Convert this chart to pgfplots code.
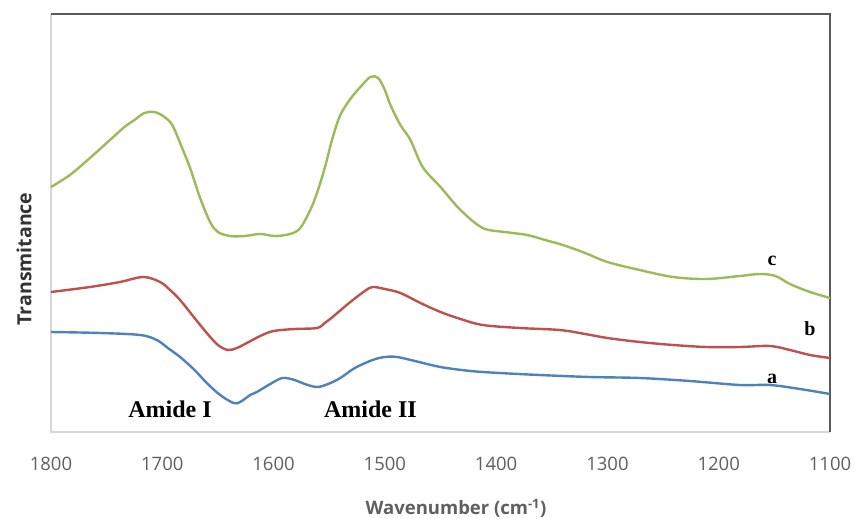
\documentclass[border=0pt]{standalone}
\usepackage{pgfplots}
\pgfplotsset{compat=1.18}
\usepackage{fontspec}
\setmainfont{Open Sans}
\newfontfamily\timesf{Liberation Serif}
\definecolor{cgreen}{RGB}{155,187,89}
\definecolor{cred}{RGB}{192,80,77}
\definecolor{cblue}{RGB}{79,129,189}
\definecolor{tickgray}{RGB}{95,95,95}
\definecolor{framedark}{RGB}{90,90,90}
\definecolor{framelight}{RGB}{215,215,215}
\begin{document}
\begin{tikzpicture}[x=1pt,y=1pt]
\useasboundingbox (-51pt,-87pt) rectangle (806pt,432pt);
\begin{axis}[
  at={(0,0)}, anchor=south west,
  scale only axis, width=779pt, height=418pt,
  xmin=1100, xmax=1800, x dir=reverse,
  ymin=87, ymax=505,
  xtick={1100,1200,...,1800},
  ytick=\empty,
  major tick length=0pt,
  axis line style={draw=none},
  /pgf/number format/assume math mode=true,
  /pgf/number format/1000 sep={},
  xticklabel style={font=\fontsize{18.5}{20}\selectfont, text=tickgray, yshift=-22pt},
  clip=false,
]
\draw[framelight, line width=2pt] (rel axis cs:0,1) -- (rel axis cs:0,0) -- (rel axis cs:1,0);
\draw[framedark, line width=2pt] (rel axis cs:0,1) -- (rel axis cs:1,1) -- (rel axis cs:1,0);

% c (green)
\addplot[cgreen, line width=2.4pt, smooth, tension=0.55] coordinates {
(1800,332) (1783,344) (1765,361) (1747,379) (1734,392) (1725,399) (1716,406)
(1707,407) (1698,402) (1691,394) (1684,376) (1675,351) (1666,321) (1657,297)
(1650,287) (1639,283) (1626,283) (1612,285) (1599,283) (1585,285) (1576,291)
(1567,309) (1561,326) (1554,351) (1547,381) (1540,404) (1531,420) (1522,432)
(1513,442) (1506,441) (1500,429) (1495,414) (1486,394) (1477,379) (1466,352)
(1450,332) (1432,309) (1412,291) (1392,287) (1372,284) (1356,279) (1340,274)
(1320,266) (1300,257) (1271,249) (1241,242) (1211,240) (1181,243) (1163,245)
(1149,243) (1136,235) (1118,227) (1100,221)
};
% b (red)
\addplot[cred, line width=2.4pt, smooth, tension=0.55] coordinates {
(1800,227) (1765,232) (1738,237) (1717,242) (1702,237) (1693,229) (1684,219)
(1671,201) (1660,186) (1650,174) (1641,169) (1633,171) (1624,176) (1612,183)
(1600,188) (1581,190) (1561,191) (1554,196) (1547,202) (1531,217) (1518,228)
(1511,232) (1500,230) (1486,226) (1468,216) (1450,207) (1432,200) (1412,194)
(1379,191) (1343,189) (1320,185) (1300,181) (1271,177) (1241,174) (1211,172)
(1181,172) (1154,173) (1136,169) (1118,164) (1100,161)
};
% a (blue)
\addplot[cblue, line width=2.4pt, smooth, tension=0.55] coordinates {
(1800,187) (1756,186) (1720,184) (1705,179) (1695,171) (1684,162) (1671,149)
(1660,136) (1648,124) (1636,116) (1630,117) (1621,124) (1615,127) (1603,135)
(1592,141) (1581,139) (1572,135) (1561,132) (1551,135) (1540,141) (1527,151)
(1511,159) (1500,162) (1489,162) (1473,158) (1450,152) (1423,148) (1397,146)
(1361,144) (1316,142) (1271,141) (1226,138) (1181,134) (1154,134) (1127,130)
(1100,125)
};

\node[font=\timesf\bfseries\fontsize{20}{22}\selectfont] at (axis cs:1152,258) {c};
\node[font=\timesf\bfseries\fontsize{20}{22}\selectfont] at (axis cs:1118,190) {b};
\node[font=\timesf\bfseries\fontsize{20}{22}\selectfont] at (axis cs:1152,140) {a};
\node[font=\timesf\bfseries\fontsize{24}{26}\selectfont] at (axis cs:1693,110) {Amide I};
\node[font=\timesf\bfseries\fontsize{24}{26}\selectfont] at (axis cs:1513,110) {Amide II};
\end{axis}
\node[font=\fontsize{19.5}{21}\selectfont\bfseries, text=black!80, rotate=90] at (-27pt,173pt) {Transmitance};
\node[font=\fontsize{18.5}{20}\selectfont\bfseries, text=tickgray] at (405pt,-76pt) {Wavenumber (cm\textsuperscript{-1})};
\end{tikzpicture}
\end{document}
